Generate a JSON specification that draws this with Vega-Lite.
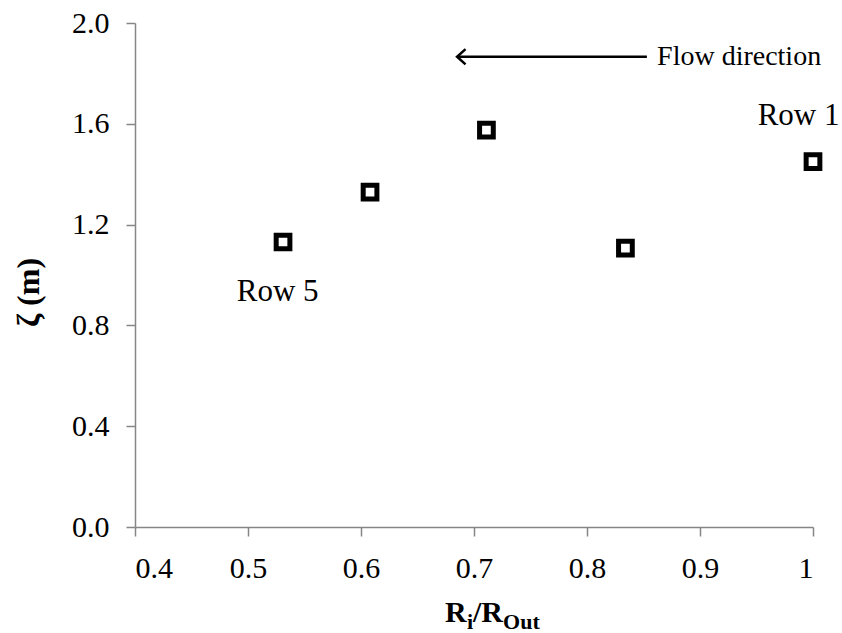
{
  "$schema": "https://vega.github.io/schema/vega-lite/v6.json",
  "width": 678,
  "height": 504,
  "autosize": {"type": "none"},
  "padding": {"left": 135, "top": 23, "right": 29, "bottom": 106},
  "background": "white",
  "config": {
    "view": {"stroke": null},
    "font": "Liberation Serif",
    "axis": {
      "grid": false,
      "domainColor": "#868686",
      "tickColor": "#868686",
      "domainWidth": 1.5,
      "tickWidth": 1.5,
      "tickSize": 9,
      "labelFont": "Liberation Serif",
      "labelFontSize": 30,
      "labelColor": "#000000",
      "titleFont": "Liberation Serif",
      "titleColor": "#000000"
    }
  },
  "datasets": {
    "points": [
      {"ratio": 0.531, "zeta": 1.131},
      {"ratio": 0.608, "zeta": 1.329},
      {"ratio": 0.711, "zeta": 1.575},
      {"ratio": 0.834, "zeta": 1.107},
      {"ratio": 1.0, "zeta": 1.450}
    ],
    "rows": [
      {"ratio": 0.490, "zeta": 0.897, "text": "Row 5"},
      {"ratio": 0.951, "zeta": 1.595, "text": "Row 1"}
    ],
    "flow": [
      {"ratio": 0.862, "zeta": 1.833, "text": "Flow direction"}
    ],
    "arrow": [
      {"x1": 0.685, "x2": 0.853, "zeta": 1.866}
    ],
    "titleBig": [
      {"ratio": 0.6743, "zeta": -0.377, "text": "R"},
      {"ratio": 0.6991, "zeta": -0.377, "text": "/R"}
    ],
    "titleSmall": [
      {"ratio": 0.6938, "zeta": -0.405, "text": "i"},
      {"ratio": 0.7257, "zeta": -0.405, "text": "Out"}
    ]
  },
  "layer": [
    {
      "data": {"name": "points"},
      "mark": {"type": "point", "shape": "square", "filled": false, "stroke": "#000000", "strokeWidth": 5, "size": 188, "opacity": 1},
      "encoding": {
        "x": {
          "field": "ratio", "type": "quantitative",
          "scale": {"domain": [0.4, 1.0], "nice": false, "zero": false},
          "axis": {
            "values": [0.4, 0.5, 0.6, 0.7, 0.8, 0.9, 1.0],
            "labelExpr": "datum.value == 1 ? '1' : format(datum.value, '.1f')",
            "labelPadding": 17,
            "title": null
          }
        },
        "y": {
          "field": "zeta", "type": "quantitative",
          "scale": {"domain": [0, 2], "nice": false},
          "axis": {
            "values": [0, 0.4, 0.8, 1.2, 1.6, 2.0],
            "format": ".1f",
            "labelPadding": 17,
            "title": "ζ (m)",
            "titleFontSize": 32,
            "titleFontWeight": "bold",
            "titleX": -90,
            "titleY": 269,
            "titleBaseline": "bottom"
          }
        }
      }
    },
    {
      "data": {"name": "rows"},
      "mark": {"type": "text", "align": "left", "baseline": "alphabetic", "fontSize": 31, "font": "Liberation Serif", "color": "#000000"},
      "encoding": {
        "x": {"field": "ratio", "type": "quantitative"},
        "y": {"field": "zeta", "type": "quantitative"},
        "text": {"field": "text"}
      }
    },
    {
      "data": {"name": "flow"},
      "mark": {"type": "text", "align": "left", "baseline": "alphabetic", "fontSize": 28, "font": "Liberation Serif", "color": "#000000"},
      "encoding": {
        "x": {"field": "ratio", "type": "quantitative"},
        "y": {"field": "zeta", "type": "quantitative"},
        "text": {"field": "text"}
      }
    },
    {
      "data": {"name": "arrow"},
      "mark": {"type": "rule", "color": "#000000", "strokeWidth": 2.5},
      "encoding": {
        "x": {"field": "x1", "type": "quantitative"},
        "x2": {"field": "x2"},
        "y": {"field": "zeta", "type": "quantitative"}
      }
    },
    {
      "data": {"name": "arrow"},
      "mark": {"type": "point", "shape": "M2,-1.8L0,0L2,1.8", "filled": false, "stroke": "#000000", "strokeWidth": 2.5, "size": 72, "opacity": 1},
      "encoding": {
        "x": {"field": "x1", "type": "quantitative"},
        "y": {"field": "zeta", "type": "quantitative"}
      }
    },
    {
      "data": {"name": "titleBig"},
      "mark": {"type": "text", "align": "left", "baseline": "alphabetic", "fontSize": 30, "fontWeight": "bold", "font": "Liberation Serif", "color": "#000000"},
      "encoding": {
        "x": {"field": "ratio", "type": "quantitative"},
        "y": {"field": "zeta", "type": "quantitative"},
        "text": {"field": "text"}
      }
    },
    {
      "data": {"name": "titleSmall"},
      "mark": {"type": "text", "align": "left", "baseline": "alphabetic", "fontSize": 22, "fontWeight": "bold", "font": "Liberation Serif", "color": "#000000"},
      "encoding": {
        "x": {"field": "ratio", "type": "quantitative"},
        "y": {"field": "zeta", "type": "quantitative"},
        "text": {"field": "text"}
      }
    }
  ]
}
